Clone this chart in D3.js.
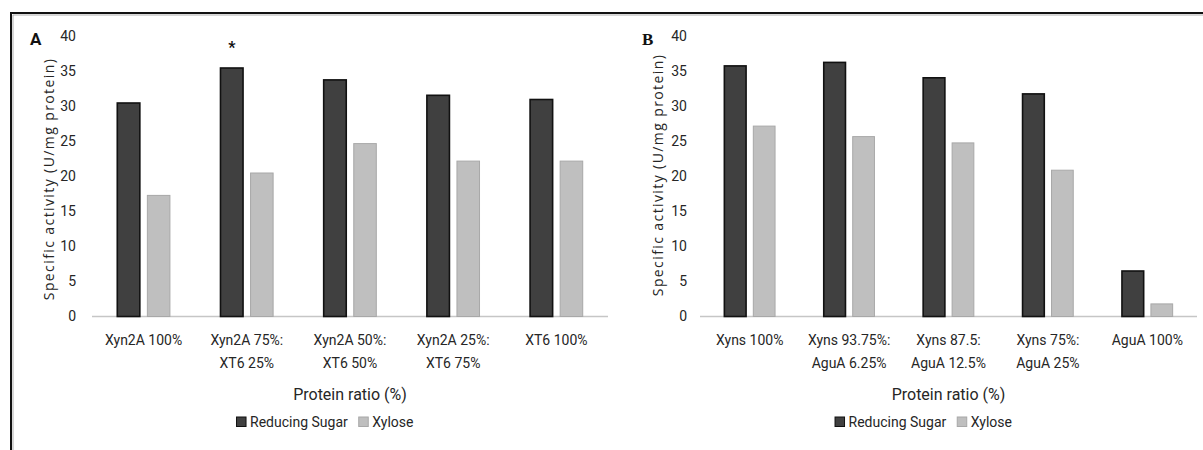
<!DOCTYPE html>
<html>
<head>
<meta charset="utf-8">
<script src="https://cdn.jsdelivr.net/npm/d3@7"></script>
<style>
  html, body { margin: 0; padding: 0; background: #fff; }
  svg { display: block; }
</style>
</head>
<body>
<svg id="chart" width="1203" height="450"></svg>
<script>
// Specific activity of enzyme mixtures, two panels
const seriesNames = ["Reducing Sugar", "Xylose"];
const yTicks = [0, 5, 10, 15, 20, 25, 30, 35, 40];

const categoriesA = [
  ["Xyn2A 100%"],
  ["Xyn2A 75%:", "XT6 25%"],
  ["Xyn2A 50%:", "XT6 50%"],
  ["Xyn2A 25%:", "XT6 75%"],
  ["XT6 100%"]
];
const reducingSugarA = [30.5, 35.5, 33.8, 31.6, 31.0];
const xyloseA = [17.3, 20.5, 24.7, 22.2, 22.2];
const starredA = [false, true, false, false, false];

const categoriesB = [
  ["Xyns 100%"],
  ["Xyns 93.75%:", "AguA 6.25%"],
  ["Xyns 87.5:", "AguA 12.5%"],
  ["Xyns 75%:", "AguA 25%"],
  ["AguA 100%"]
];
const reducingSugarB = [35.8, 36.3, 34.1, 31.8, 6.5];
const xyloseB = [27.2, 25.7, 24.8, 20.9, 1.8];
const starredB = [false, false, false, false, false];

const svg = d3.select("#chart");
const fillColors = ["#404040", "#bfbfbf"];
const strokeColors = ["#111111", "#a8a8a8"];
const strokeWidths = [1.6, 1];
const textColor = "#262626";
const tickFont = "Roboto, 'Open Sans', sans-serif";

// outer frame: top and left edges
svg.append("path")
  .attr("d", "M11,450 V13 H1203")
  .attr("fill", "none")
  .attr("stroke", "#111")
  .attr("stroke-width", 2);
svg.append("path")
  .attr("d", "M13,450 V15 H1203")
  .attr("fill", "none")
  .attr("stroke", "#9a9a9a")
  .attr("stroke-width", 0.8);

function drawPanel(opts) {
  const { letter, letterFont, letterX, x0, x1, tickX, titleX, titleY, categories, series, starred } = opts;
  const g = svg.append("g");

  const y = d3.scaleLinear().domain([0, 40]).range([316.5, 36.5]);
  const idx = categories.map((d, i) => i);
  const x = d3.scaleBand().domain(idx).range([x0, x1]).paddingInner(0.49).paddingOuter(0.245);
  const xs = d3.scaleBand().domain(d3.range(series.length)).range([0, x.bandwidth()]).paddingInner(0.25);

  // panel letter
  g.append("text")
    .attr("x", letterX).attr("y", 45)
    .attr("font-family", letterFont)
    .attr("font-weight", "bold")
    .attr("font-size", 17)
    .attr("fill", "#111")
    .text(letter);

  // y tick labels
  g.append("g").selectAll("text").data(yTicks).join("text")
    .attr("x", tickX).attr("y", d => y(d))
    .attr("dy", "0.35em")
    .attr("text-anchor", "end")
    .attr("font-family", tickFont)
    .attr("font-size", 14)
    .attr("fill", textColor)
    .text(d => d);

  // y axis title
  g.append("text")
    .attr("transform", `translate(${titleX},${titleY}) rotate(-90)`)
    .attr("text-anchor", "middle")
    .attr("dy", "0.35em")
    .attr("font-family", "'Open Sans', sans-serif")
    .attr("font-size", 14)
    .attr("letter-spacing", 1.4)
    .attr("fill", textColor)
    .text("Specific activity (U/mg protein)");

  // baseline
  g.append("line")
    .attr("x1", x0).attr("x2", x1)
    .attr("y1", y(0)).attr("y2", y(0))
    .attr("stroke", "#c6c6c6")
    .attr("stroke-width", 1.3);

  // bars
  series.forEach((vals, s) => {
    g.append("g").selectAll("rect").data(vals).join("rect")
      .attr("x", (d, i) => x(i) + xs(s))
      .attr("y", d => y(d))
      .attr("width", xs.bandwidth())
      .attr("height", d => y(0) - y(d))
      .attr("fill", fillColors[s])
      .attr("stroke", strokeColors[s])
      .attr("stroke-width", strokeWidths[s]);
  });

  // significance marker
  g.append("g").selectAll("text").data(idx.filter(i => starred[i])).join("text")
    .attr("x", i => x(i) + xs(0) + xs.bandwidth() / 2)
    .attr("y", 53)
    .attr("text-anchor", "middle")
    .attr("font-family", "Roboto, sans-serif")
    .attr("font-weight", "bold")
    .attr("font-size", 16)
    .attr("fill", "#111")
    .text("*");

  // category labels
  const cat = g.append("g").selectAll("text").data(categories).join("text")
    .attr("text-anchor", "middle")
    .attr("font-family", tickFont)
    .attr("font-size", 14)
    .attr("fill", textColor);
  cat.each(function(lines, i) {
    const t = d3.select(this);
    lines.forEach((ln, k) => {
      t.append("tspan")
        .attr("x", x(i) + x.bandwidth() / 2)
        .attr("y", 345 + k * 22.5)
        .text(ln);
    });
  });

  // x axis title
  const cx = (x0 + x1) / 2;
  g.append("text")
    .attr("x", cx).attr("y", 400)
    .attr("text-anchor", "middle")
    .attr("font-family", tickFont)
    .attr("font-size", 16)
    .attr("fill", textColor)
    .text("Protein ratio (%)");

  // legend
  const lg = g.append("g");
  let pos = 0;
  seriesNames.forEach((name, s) => {
    const it = lg.append("g").attr("transform", `translate(${pos},0)`);
    it.append("rect")
      .attr("x", 0).attr("y", 417)
      .attr("width", 9.5).attr("height", 9.5)
      .attr("fill", fillColors[s])
      .attr("stroke", strokeColors[s])
      .attr("stroke-width", 1);
    const tx = it.append("text")
      .attr("x", 13.5).attr("y", 426.5)
      .attr("font-family", tickFont)
      .attr("font-size", 14)
      .attr("fill", textColor)
      .text(name);
    pos += 13.5 + tx.node().getComputedTextLength() + 11;
  });
  const legendW = pos - 11;
  lg.attr("transform", `translate(${cx - 25 - legendW / 2},0)`);
}

drawPanel({
  letter: "A", letterFont: "Roboto, sans-serif", letterX: 30, x0: 92, x1: 608, tickX: 76, titleX: 49, titleY: 179,
  categories: categoriesA, series: [reducingSugarA, xyloseA], starred: starredA
});
drawPanel({
  letter: "B", letterFont: "'Liberation Serif', serif", letterX: 642, x0: 700, x1: 1197, tickX: 687, titleX: 658, titleY: 175,
  categories: categoriesB, series: [reducingSugarB, xyloseB], starred: starredB
});
</script>
</body>
</html>
